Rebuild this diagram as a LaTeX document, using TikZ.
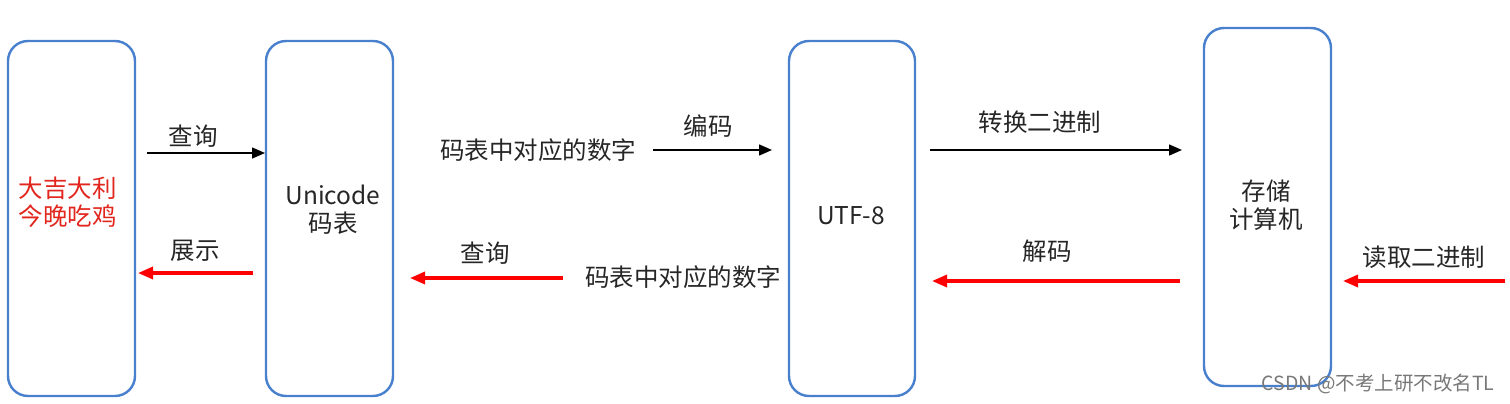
\documentclass[tikz,border=0pt]{standalone}
\usepackage{fontspec}
\setmainfont{Noto Sans CJK SC}
\usetikzlibrary{arrows.meta}
\definecolor{boxblue}{RGB}{72,128,206}
\definecolor{tred}{RGB}{226,38,30}
\definecolor{wm}{RGB}{120,120,120}
\tikzset{
  box/.style={draw=boxblue,line width=2.4pt,rounded corners=20pt,fill=white},
  lbl/.style={font=\fontsize{24.5}{28}\selectfont,text=black!85,inner sep=0pt},
  fwd/.style={-{Triangle[length=13pt,width=11pt]},line width=1.5pt,black},
  bwd/.style={-{Triangle[length=15pt,width=12pt]},line width=3.2pt,red},
}
\begin{document}
\begin{tikzpicture}[x=1pt,y=-1pt]
\useasboundingbox (0,0) rectangle (1510,404);
% boxes
\draw[box] (8,41) rectangle (135,396);
\draw[box] (266,41) rectangle (393,396);
\draw[box] (789,41) rectangle (915,396);
\draw[box] (1204,28) rectangle (1331,386);
% box texts
\node[lbl,text=tred,align=center] (b1) at (68,202) {大吉大利\\[0pt]今晚吃鸡};
\node[lbl,align=center] (b2) at (333,210) {Unicode\\[0pt]码表};
\node[lbl] (b3) at (851,216) {UTF-8};
\node[lbl,align=center] (b4) at (1266,205) {存储\\[0pt]计算机};
% forward arrows
\coordinate (f1s) at (147,153); \coordinate (f1e) at (265,153);
\coordinate (f2s) at (653,150); \coordinate (f2e) at (772,150);
\coordinate (f3s) at (930,150); \coordinate (f3e) at (1182,150);
\draw[fwd] (f1s) -- (f1e);
\draw[fwd] (f2s) -- (f2e);
\draw[fwd] (f3s) -- (f3e);
\node[lbl] (l1) at (193,136) {查询};
\node[lbl] (l2) at (708,126) {编码};
\node[lbl] (l2a) at (538,150) {码表中对应的数字};
\node[lbl] (l3) at (1040,122) {转换二进制};
% backward arrows
\coordinate (r1s) at (253,273); \coordinate (r1e) at (138,273);
\coordinate (r2s) at (563,278); \coordinate (r2e) at (410,278);
\coordinate (r3s) at (1180,281); \coordinate (r3e) at (932,281);
\coordinate (r4s) at (1505,281); \coordinate (r4e) at (1343,281);
\draw[bwd] (r1s) -- (r1e);
\draw[bwd] (r2s) -- (r2e);
\draw[bwd] (r3s) -- (r3e);
\draw[bwd] (r4s) -- (r4e);
\node[lbl] (m1) at (195,251) {展示};
\node[lbl] (m2) at (485,253) {查询};
\node[lbl] (m2a) at (683,277) {码表中对应的数字};
\node[lbl] (m3) at (1047,251) {解码};
\node[lbl] (m4) at (1424,257) {读取二进制};
% watermark
\node[font=\fontsize{19.5}{22}\selectfont,text=wm,inner sep=0pt] (wmk) at (1378,384) {CSDN @不考上研不改名TL};
\end{tikzpicture}
\end{document}
